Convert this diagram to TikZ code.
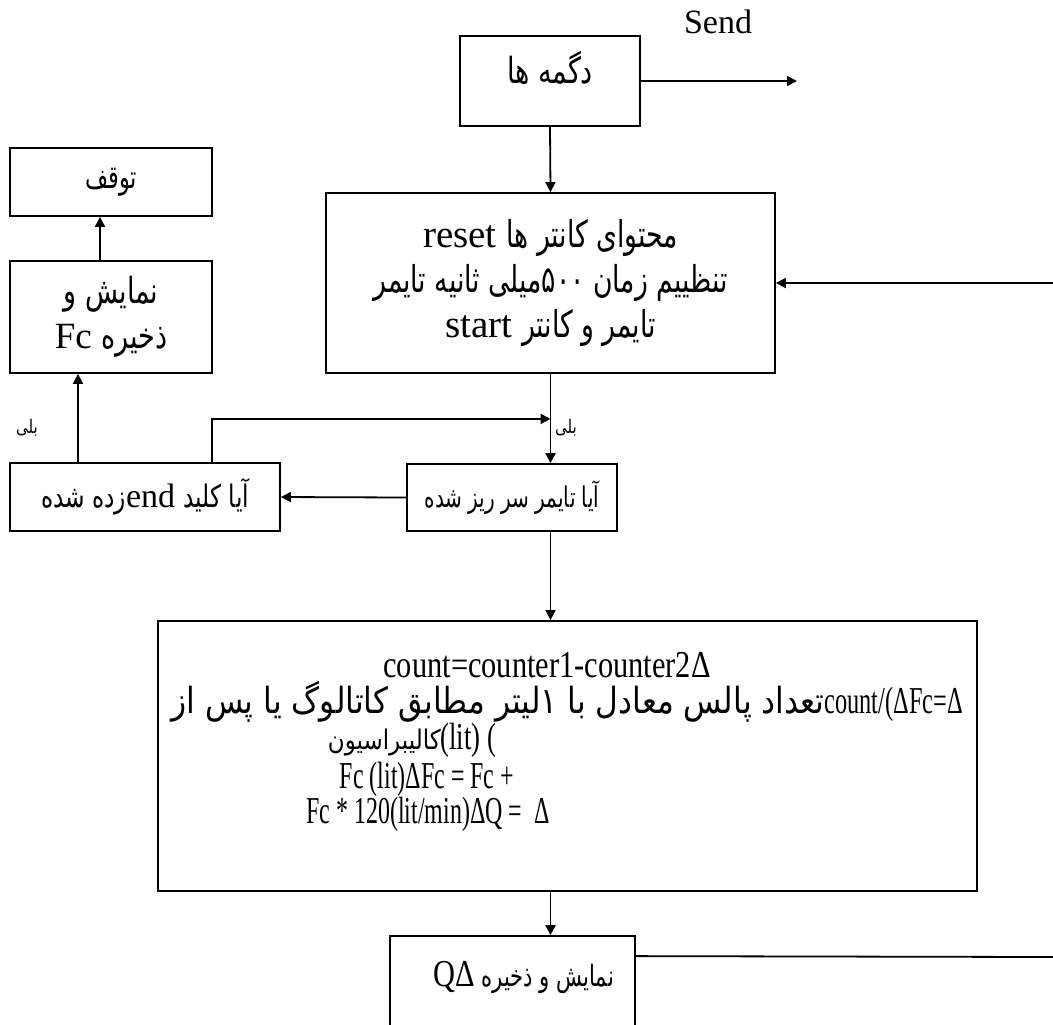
\documentclass[tikz,border=0pt]{standalone}
\usepackage{fontspec}
\setmainfont{Liberation Serif}
\newfontfamily\fafont[Script=Arabic]{DejaVu Sans}
\TeXXeTstate=1
% متن فارسی: فشرده‌سازی افقی، اندازه، متن
\newcommand{\fa}[3][0.8]{\scalebox{#1}[1]{\fontsize{#2}{#2}\fafont #3}}
\newcommand{\narrow}[2]{\scalebox{#1}[1]{#2}}
\usetikzlibrary{positioning, arrows.meta}

\begin{document}
\begin{tikzpicture}[
        x=0.5pt, y=-0.5pt,
        box/.style={draw, line width=0.9pt, align=center, inner sep=0pt, font=\fontsize{19.5}{22.5}\selectfont},
        txt/.style={inner sep=0pt, font=\fontsize{19}{22}\selectfont},
        lbl/.style={inner sep=0pt},
        arr/.style={-{Triangle[length=5pt, width=5pt]}, line width=0.9pt},
        line/.style={line width=0.9pt}
    ]
    \clip (0,0) rectangle (1053,1024);
    % ستون اصلی
    \node[box, minimum width=90pt, minimum height=45pt, text depth=14pt] (btn) at (550,81) {\fa[0.75]{18}{\beginR دگمه ها\endR}};
    \node[box, minimum width=224.5pt, minimum height=90pt] (main) at (550.5,283)
        {reset \fa[0.72]{18.5}{\beginR محتوای کانتر ها\endR}\\
         \fa[0.72]{18.5}{\beginR تنظییم زمان ۵۰۰میلی ثانیه تایمر\endR}\\
         start \fa[0.72]{18.5}{\beginR تایمر و کانتر\endR}};
    \node[box, minimum width=105pt, minimum height=33.5pt] (timer) at (512,497.5) {\fa[0.7]{14.3}{\beginR آیا تایمر سر ریز شده\endR}};
    \node[box, minimum width=409.5pt, minimum height=135pt] (calc) at (567.5,756) {};
    \node[box, minimum width=122.5pt, minimum height=50pt] (out) at (512.5,986) {};
    % ستون چپ
    \node[box, minimum width=101pt, minimum height=34pt] (stop) at (111,182) {\fa[0.7]{16}{\beginR توقف\endR}};
    \node[box, minimum width=101pt, minimum height=56pt, font=\fontsize{18.5}{22.5}\selectfont] (show) at (111,317)
        {\fa[0.75]{18}{\beginR نمایش و\endR}\\ Fc \fa[0.75]{18}{\beginR ذخیره\endR}};
    \node[box, minimum width=135pt, minimum height=34pt, font=\fontsize{17}{20}\selectfont] (endq) at (145,497)
        {\fa[0.75]{15.5}{\beginR زده شده\endR}end \fa[0.75]{15.5}{\beginR آیا کلید\endR}};
    % متن محاسبات
    \node[txt] (l1) at (547,665) {\narrow{0.8}{count=counter1-counter2Δ}};
    \node[txt] (l2) at (567,702) {\fa[0.87]{18}{\beginR تعداد پالس معادل با ۱لیتر مطابق کاتالوگ یا پس از\endR}\narrow{0.64}{count/(ΔFc=Δ}};
    \node[txt] (l3) at (412,740) {\fa[0.85]{13.5}{\beginR کالیبراسیون\endR}\narrow{0.7}{(lit) (}};
    \node[txt] (l4) at (427,779) {\narrow{0.63}{Fc (lit)ΔFc = Fc +}};
    \node[txt] (l5) at (428,814) {\narrow{0.63}{Fc * 120(lit/min)ΔQ =\ \ Δ}};
    \node[txt, anchor=west] (lq) at (433,977) {\narrow{0.8}{QΔ}\,\fa[0.72]{14.7}{\beginR نمایش  و ذخیره\endR}};
    % برچسب‌ها
    \node[txt, font=\fontsize{17}{20}\selectfont] (send) at (718,22) {Send};
    \node[lbl] (yes1) at (27,428) {\fa{9.4}{\beginR بلی\endR}};
    \node[lbl] (yes2) at (566,428) {\fa{9.4}{\beginR بلی\endR}};
    \coordinate (sendend) at (797,83);
    \coordinate (back) at (1053,283);
    \coordinate (qout) at (1053,957);
    \coordinate (loop) at ([yshift=-22.5pt]main.south);

    \draw[arr] (btn.east) -- (btn.east -| sendend);
    \draw[arr] (btn.south) -- (main.north);
    \draw[arr] (back) -- (main.east);
    \draw[arr] (main.south) -- (main.south |- timer.north);
    \draw[arr] (timer.west) -- (endq.east);
    \draw[arr] ([xshift=33.5pt]endq.north) |- (loop);
    \draw[arr] ([xshift=-33.5pt]endq.north) -- ([xshift=-33.5pt]endq.north |- show.south);
    \draw[arr] ([xshift=-5.5pt]show.north) -- ([xshift=-5.5pt]stop.south);
    \draw[arr] (main.south |- timer.south) -- (main.south |- calc.north);
    \draw[arr] (main.south |- calc.south) -- (main.south |- out.north);
    \draw[line] ([yshift=-10.5pt]out.north east) -- (qout);
\end{tikzpicture}
\end{document}
